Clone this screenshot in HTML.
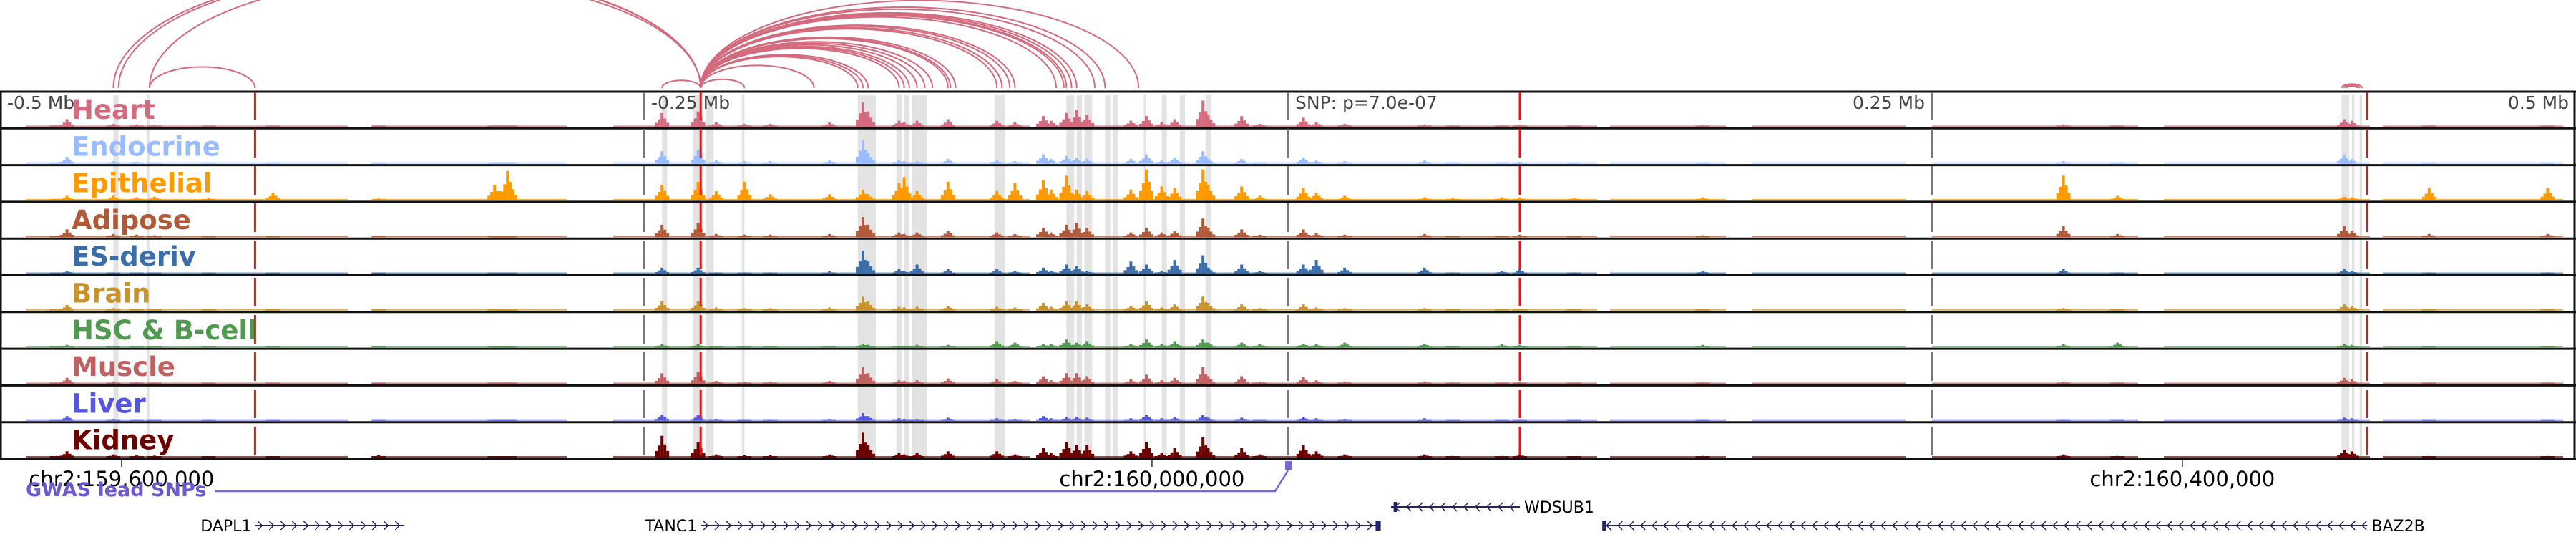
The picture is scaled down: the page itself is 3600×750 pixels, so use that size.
<!DOCTYPE html>
<html><head><meta charset="utf-8">
<style>
html,body{margin:0;padding:0;background:#fff;}
svg{display:block;font-family:"DejaVu Sans","Liberation Sans",sans-serif;}
</style></head>
<body>
<svg id="chart" width="3600" height="750" viewBox="0 0 3600 750" xmlns="http://www.w3.org/2000/svg">
<g id="bands"></g>
<g id="arcs"></g>
<g id="tracks"></g>
<g id="overlay"></g>
<g id="axis"></g>
<g id="genes"></g>
</svg>
<script>
// ---- data ----
const trackNames = ["Heart","Endocrine","Epithelial","Adipose","ES-deriv","Brain","HSC & B-cell","Muscle","Liver","Kidney"];
const trackColors = ["#d46a7e","#99bbff","#ff9900","#b05a3a","#3b6ea8","#c8932a","#4e9a4e","#c06060","#5555e5","#6b0000"];
const peakSites = [-478,-474,-456,-447,-440,-419,-394,-353,-308,-306,-303,-302,-243,-229,-222,-211,-201,-178,-165,-163,-151,-149,-144,-132,-113,-106,-95,-92,-86,-82,-78,-61,-55,-49,-44,-33,-31,-18,-11,6,11,22,53,64,83,90,111,161,301,322,410,413,443,489];
const heartH = [5,25,10,8,6,4,3,4,3,3,3,3,45,50,15,10,10,15,80,50,20,15,20,25,20,15,35,20,45,55,40,20,35,15,25,85,40,35,10,30,15,10,8,5,5,8,4,6,8,5,25,20,5,5];
const endocrineH = [3,22,8,6,4,3,3,3,3,3,3,3,40,45,10,8,8,10,75,35,10,8,8,15,10,8,30,15,25,20,15,15,30,10,20,40,15,15,5,20,10,8,10,5,5,6,4,5,8,5,30,15,3,3];
const epithelialH = [5,15,15,10,12,8,25,6,50,30,95,60,50,60,30,60,20,20,35,20,55,75,30,60,30,55,65,35,80,35,30,35,100,45,40,100,50,45,15,40,25,15,10,8,10,10,8,10,80,15,12,10,40,40];
const adiposeH = [5,25,10,8,6,4,3,4,3,3,3,3,40,45,10,8,8,10,65,40,15,10,15,20,15,10,30,15,40,45,30,15,30,15,20,60,30,25,8,25,12,8,10,5,5,8,4,6,35,10,35,20,10,10];
const esH = [3,10,5,4,3,3,3,3,3,3,3,3,20,20,5,5,5,8,75,40,15,10,30,15,15,10,20,10,30,25,10,40,30,10,45,60,20,30,10,30,45,20,20,5,10,15,5,10,15,5,15,10,5,5];
const brainH = [4,18,8,6,5,4,3,3,3,3,3,3,30,30,10,8,8,10,45,30,12,10,12,15,12,10,25,12,30,30,20,15,30,10,20,45,25,20,8,20,10,8,8,5,5,6,4,5,8,5,20,15,5,5];
const hscH = [3,8,5,4,3,3,3,3,3,3,3,3,10,10,5,5,5,5,12,8,5,5,8,8,20,15,10,10,25,15,20,10,25,10,20,25,15,15,10,12,10,15,12,5,10,8,5,8,10,15,10,8,5,5];
const muscleH = [4,20,8,6,5,4,3,3,3,3,3,3,35,40,10,8,8,10,55,35,12,10,12,18,15,10,25,12,35,35,25,15,30,12,20,55,25,25,8,22,12,8,8,5,5,6,4,5,8,5,20,15,5,5];
const liverH = [3,15,6,5,4,3,3,3,3,3,3,3,20,18,6,5,5,6,25,15,8,6,6,10,8,6,15,8,12,12,10,8,20,8,12,18,10,10,5,12,8,6,8,4,4,5,3,4,5,4,10,8,4,4];
const kidneyH = [5,20,10,8,6,4,3,8,3,3,3,3,70,50,10,8,8,10,80,40,15,10,15,20,20,10,30,15,50,40,40,20,50,15,30,65,30,30,10,40,20,10,10,5,5,10,4,5,10,5,25,20,5,5];
const trackHeights = [heartH,endocrineH,epithelialH,adiposeH,esH,brainH,hscH,muscleH,liverH,kidneyH];
const noiseIntervals = [[-490,-365],[-355,-280],[-262,-100],[-95,120],[125,170],[180,240],[250,330],[340,420],[425,495]];
const bandStarts = [-456,-443,-243,-231,-226,-212,-167,-152,-149,-146,-114,-86,-82,-79,-71,-68,-56,-49,-42,-32,409,413,416];
const bandEnds   = [-454,-442,-241,-228,-223,-211,-160,-150,-147,-140,-110,-83,-80,-76,-69,-66,-55,-47,-40,-30,412,414,417];
const arcStarts = [-456,-454,-442,-442,-243,-228,-228,-228,-228,-228,-228,-228,-228,-228,-228,-228,-228,-228,-228,-228,-228,-228,-228,-228,-228,-228,-228,-228,-228,-228,-228,409,410,411];
const arcEnds   = [-228,-228,-228,-401,-228,-211,-184,-167,-165,-163,-151,-149,-147,-144,-141,-138,-132,-131,-129,-113,-111,-108,-106,-90,-87,-86,-84,-82,-75,-71,-58,417,416,415];
const redLines = [-401,-228,90,419];
const greyLines = [-250,0,250];
const axisLabels = ["-0.5 Mb","-0.25 Mb","SNP: p=7.0e-07","0.25 Mb","0.5 Mb"];
const axisLabelKb = [-500,-250,0,250,500];
const chrTicks = [-452.8,-52.8,347.2];
const chrLabels = ["chr2:159,600,000","chr2:160,000,000","chr2:160,400,000"];
const geneNames = ["DAPL1","TANC1","WDSUB1","BAZ2B"];
const geneStart = [-401,-228,40,122];
const geneEnd   = [-343,36,90,419];
const geneStrand = [1,1,-1,-1];
const geneRow = [734,734,708,734];
const exonStarts = [34,122,41];
const exonEnds = [36,123,42];
const exonRows = [734,734,708];

// ---- scales ----
const X0=0, X1=3600, TOP=128, TH=51.3;
const x = kb => X0 + (kb+500)/1000*(X1-X0);
const NS="http://www.w3.org/2000/svg";
function mk(tag, parent){const e=document.createElementNS(NS,tag);parent.appendChild(e);return e;}
const bandsG=document.getElementById('bands'), arcsG=document.getElementById('arcs'),
 tracksG=document.getElementById('tracks'), ovG=document.getElementById('overlay'),
 axG=document.getElementById('axis'), genesG=document.getElementById('genes');

bandStarts.forEach((s,i)=>{
  const r=mk('rect',bandsG);
  
  
  r.setAttribute('x',x(s)); r.setAttribute('width',Math.max(3,x(bandEnds[i])-x(s)));
  r.setAttribute('y',TOP+4); r.setAttribute('height',TH*10-4); r.setAttribute('fill','#e3e3e3');
});

const ARC_Y=123;
arcStarts.forEach((s,i)=>{
  const a=x(s), b=x(arcEnds[i]); const l=Math.min(a,b), r2=Math.max(a,b);
  const rx=(r2-l)/2, ry=(r2-l)*0.2;
  const p=mk('path',arcsG);
  
  
  p.setAttribute('d',`M${l},${ARC_Y} A${rx},${ry} 0 0 1 ${r2},${ARC_Y}`);
  p.setAttribute('fill','none'); p.setAttribute('stroke','#d46a7e'); p.setAttribute('stroke-width','2');
});

trackNames.forEach((name,t)=>{
  const g=mk('g',tracksG);
  
  
  const top=TOP+t*TH, base=top+TH-2, col=trackColors[t], maxH=TH-8;
  noiseIntervals.forEach(iv=>{
    const r=mk('rect',g);
    
    
    r.setAttribute('x',x(iv[0])); r.setAttribute('width',x(iv[1])-x(iv[0]));
    r.setAttribute('y',base-2); r.setAttribute('height',2); r.setAttribute('fill',col); r.setAttribute('opacity','0.7');
  });
  const hs=trackHeights[t];
  peakSites.forEach((kb,i)=>{
    const h=hs[i]/100*maxH;
    [[-2.2,0.3],[-1.1,0.55],[0,1],[1.1,0.6],[2.2,0.3]].forEach(([d,f])=>{
      const r=mk('rect',g);
      
      
      const hh=Math.max(2,h*f);
      r.setAttribute('x',x(kb+d)-2); r.setAttribute('width',4);
      r.setAttribute('y',base-hh); r.setAttribute('height',hh); r.setAttribute('fill',col);
    });
  });
  const ln=mk('line',g);
  
  
  ln.setAttribute('x1',0); ln.setAttribute('x2',3600); ln.setAttribute('y1',top+TH); ln.setAttribute('y2',top+TH);
  ln.setAttribute('stroke','#111'); ln.setAttribute('stroke-width','3');
  const tx=mk('text',g);
  
  
  tx.setAttribute('x',100); tx.setAttribute('y',top+38); tx.setAttribute('font-size','37');
  tx.setAttribute('font-weight','bold'); tx.setAttribute('fill',col); tx.textContent=name;
});

[['M0,128 L3600,128','frame-top'],['M1,128 L1,641','frame-left'],['M3598,128 L3598,641','frame-right']].forEach(([d,n])=>{
  const p=mk('path',ovG);
  
  
  p.setAttribute('d',d); p.setAttribute('stroke','#111'); p.setAttribute('stroke-width','3'); p.setAttribute('fill','none');
});
greyLines.forEach(kb=>{
  const l=mk('line',ovG);
  
  
  l.setAttribute('x1',x(kb)); l.setAttribute('x2',x(kb)); l.setAttribute('y1',128); l.setAttribute('y2',641);
  l.setAttribute('stroke','#777'); l.setAttribute('stroke-width','2.5'); l.setAttribute('stroke-dasharray','40,12');
});
redLines.forEach(kb=>{
  const l=mk('line',ovG);
  
  
  l.setAttribute('x1',x(kb)); l.setAttribute('x2',x(kb)); l.setAttribute('y1',128); l.setAttribute('y2',641);
  l.setAttribute('stroke','#ee1111'); l.setAttribute('stroke-width','3'); l.setAttribute('stroke-dasharray','40,12');
});
axisLabels.forEach((s,i)=>{
  const t=mk('text',ovG);
  
  
  const kb=axisLabelKb[i];
  let ax=x(kb)+10, anchor='start';
  if(kb>=250){ax=x(kb)-10;anchor='end';}
  t.setAttribute('x',ax); t.setAttribute('y',152); t.setAttribute('text-anchor',anchor);
  t.setAttribute('font-size','25'); t.setAttribute('fill','#444'); t.textContent=s;
});

chrTicks.forEach((kb,i)=>{
  const l=mk('line',axG);
  
  
  l.setAttribute('x1',x(kb)); l.setAttribute('x2',x(kb)); l.setAttribute('y1',642); l.setAttribute('y2',652);
  l.setAttribute('stroke','#333'); l.setAttribute('stroke-width','1.5');
  const t=mk('text',axG);
  
  
  t.setAttribute('x',x(kb)); t.setAttribute('y',679); t.setAttribute('text-anchor','middle');
  t.setAttribute('font-size','29'); t.setAttribute('fill','#000'); t.textContent=chrLabels[i];
});

const gw=mk('path',genesG);


gw.setAttribute('d','M300,686 L1782,686 L1800,657');
gw.setAttribute('stroke','#7466d4'); gw.setAttribute('stroke-width','2.5'); gw.setAttribute('fill','none');
const gm=mk('rect',genesG);


gm.setAttribute('x',1796); gm.setAttribute('y',644); gm.setAttribute('width',9); gm.setAttribute('height',12); gm.setAttribute('fill','#7466d4');
const gl=mk('text',genesG);


gl.setAttribute('x',36); gl.setAttribute('y',693); gl.setAttribute('font-size','27'); gl.setAttribute('font-weight','bold');
gl.setAttribute('fill','#6a5acd'); gl.textContent='GWAS lead SNPs';

geneNames.forEach((n,i)=>{
  const g=mk('g',genesG);
  
  
  const a=x(geneStart[i]), b=x(geneEnd[i]), y=geneRow[i];
  const l=mk('line',g);
  
  
  l.setAttribute('x1',a); l.setAttribute('x2',b); l.setAttribute('y1',y); l.setAttribute('y2',y);
  l.setAttribute('stroke','#23236e'); l.setAttribute('stroke-width','2');
  let d='';
  for(let p=a+8;p<b-4;p+=16){
    d+= geneStrand[i]>0 ? `M${p-4},${y-6} L${p+2},${y} L${p-4},${y+6} ` : `M${p+4},${y-6} L${p-2},${y} L${p+4},${y+6} `;
  }
  const ch=mk('path',g);
  
  
  ch.setAttribute('d',d); ch.setAttribute('stroke','#23236e'); ch.setAttribute('stroke-width','1.5'); ch.setAttribute('fill','none');
  const t=mk('text',g);
  
  
  t.setAttribute('font-size','22'); t.setAttribute('fill','#000'); t.setAttribute('y',y+8);
  if(geneStrand[i]>0 && n!=='TANC1' && n!=='DAPL1'){t.setAttribute('x',b+6);}
  else if(geneStrand[i]>0){t.setAttribute('x',a-5);t.setAttribute('text-anchor','end');}
  else{t.setAttribute('x',b+6);t.setAttribute('text-anchor','start');}
  t.textContent=n;
});
exonStarts.forEach((s,i)=>{
  const r=mk('rect',genesG);
  
  
  r.setAttribute('x',x(s)); r.setAttribute('width',Math.max(5,x(exonEnds[i])-x(s)));
  r.setAttribute('y',exonRows[i]-7); r.setAttribute('height',14); r.setAttribute('fill','#23236e');
});
</script>
</body></html>
